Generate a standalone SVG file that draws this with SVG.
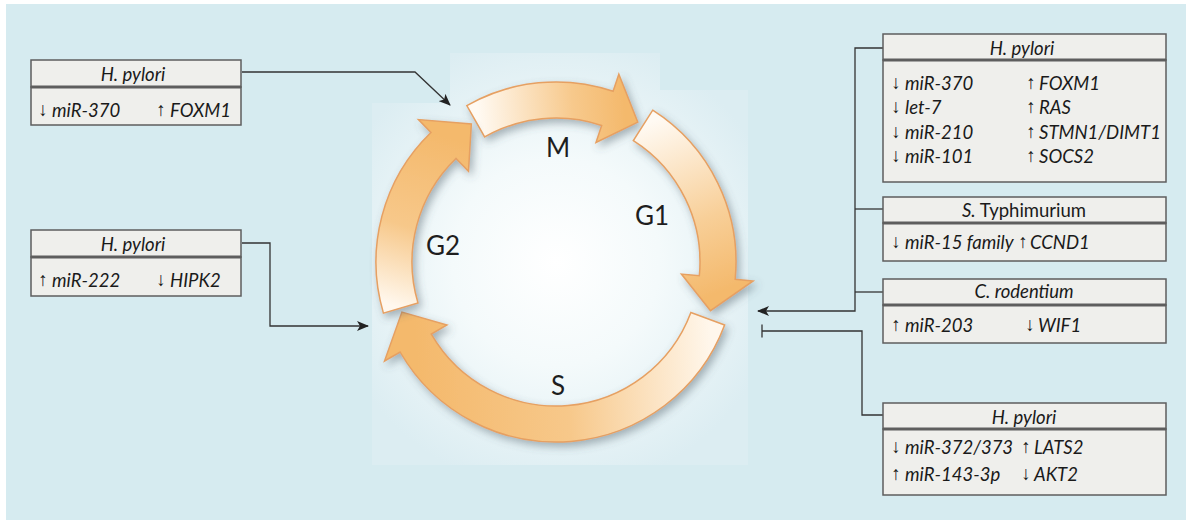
<svg xmlns="http://www.w3.org/2000/svg" width="1186" height="520" viewBox="0 0 1186 520">
<defs>
<style>
.box{fill:#efefec;stroke:#5e5e5e;stroke-width:1.5}
.sep{stroke:#5e5e5e;stroke-width:3}
.t{font-family:Lato,"Liberation Sans",sans-serif;font-style:italic;font-size:18.5px;fill:#1a1a1a}
.tn{font-style:normal}
.ar{font-family:"Liberation Sans","DejaVu Sans",sans-serif;font-size:19px;font-weight:bold;fill:#1a1a1a;text-anchor:middle}
.c{text-anchor:middle}
.ph{font-family:Lato,"Liberation Sans",sans-serif;font-size:26px;fill:#1e1e1e;text-anchor:middle}
.con{fill:none;stroke:#333;stroke-width:1.3}
.arw{stroke:#e6a062;stroke-width:1.5;filter:url(#sh)}
</style>
<marker id="ah" viewBox="0 0 12 10" refX="11" refY="5" markerWidth="12" markerHeight="10" markerUnits="userSpaceOnUse" orient="auto">
<path d="M0,0 L12,5 L0,10 L3,5 Z" fill="#222"/>
</marker>
<filter id="sh" x="-20%" y="-20%" width="140%" height="140%">
<feDropShadow dx="3" dy="4" stdDeviation="4" flood-color="#4a5a66" flood-opacity="0.45"/>
</filter>
<radialGradient id="pan" cx="556" cy="262" r="230" gradientUnits="userSpaceOnUse">
<stop offset="0" stop-color="#ffffff"/>
<stop offset="0.45" stop-color="#f4fafb"/>
<stop offset="1" stop-color="#dcedf2"/>
</radialGradient>
<linearGradient id="gM" gradientUnits="userSpaceOnUse" x1="478" y1="122" x2="625" y2="110">
<stop offset="0" stop-color="#fffaf3"/><stop offset="0.65" stop-color="#f7c98c"/><stop offset="1" stop-color="#f4b96c"/>
</linearGradient>
<linearGradient id="gG1" gradientUnits="userSpaceOnUse" x1="643" y1="125" x2="712" y2="295">
<stop offset="0" stop-color="#fffaf3"/><stop offset="0.6" stop-color="#f8cf98"/><stop offset="1" stop-color="#f4b96c"/>
</linearGradient>
<linearGradient id="gS" gradientUnits="userSpaceOnUse" x1="710" y1="318" x2="415" y2="340">
<stop offset="0" stop-color="#fff7ec"/><stop offset="0.5" stop-color="#f7c88a"/><stop offset="1" stop-color="#f4b96c"/>
</linearGradient>
<linearGradient id="gG2" gradientUnits="userSpaceOnUse" x1="400" y1="308" x2="455" y2="140">
<stop offset="0" stop-color="#fff8ee"/><stop offset="0.45" stop-color="#f7c88a"/><stop offset="1" stop-color="#f4b96c"/>
</linearGradient>
</defs>

<rect x="0" y="0" width="1186" height="520" fill="#ffffff"/>
<rect x="6" y="4" width="1180" height="516" fill="#d6ebf0"/>
<path d="M372,103 H450 V53 H660 V90 H748 V465 H372 Z" fill="url(#pan)"/>

<g id="cycle">
<g id="arrow-M">
<path class="arw" fill="url(#gM)" d="M466.81,105.65 A180,180 0 0 1 613.11,91.31 L618.83,74.24 L637.76,122.15 L595.98,142.51 L601.69,125.44 A144,144 0 0 0 484.65,136.92 Z"/>
<text class="ph" x="558" y="157">M</text>
</g>
<g id="arrow-G1">
<path class="arw" fill="url(#gG1)" d="M652.71,110.19 A180,180 0 0 1 735.17,279.25 L753.09,280.98 L710.50,310.71 L681.42,274.07 L699.34,275.80 A144,144 0 0 0 633.37,140.55 Z"/>
<text class="ph" x="652" y="225">G1</text>
</g>
<g id="arrow-S">
<path class="arw" fill="url(#gS)" d="M724.61,325.04 A180,180 0 0 1 400.12,352 L384.53,361 L401.93,312.06 L446.88,325 L431.29,334 A144,144 0 0 0 690.88,312.43 Z"/>
<text class="ph" x="558" y="395">S</text>
</g>
<g id="arrow-G2">
<path class="arw" fill="url(#gG2)" d="M383.42,313.12 A180,180 0 0 1 430.95,132.53 L418.45,119.58 L471.35,123.88 L468.47,171.37 L455.96,158.42 A144,144 0 0 0 417.93,302.90 Z"/>
<text class="ph" x="443" y="255">G2</text>
</g>
</g>

<g id="connectors">
<polyline class="con" points="242,72 415,72 450,105" marker-end="url(#ah)"/>
<polyline class="con" points="242,243 270,243 270,326 368,326" marker-end="url(#ah)"/>
<polyline class="con" points="883,48 855,48 855,311 758,311" marker-end="url(#ah)"/>
<line class="con" x1="855" y1="209" x2="883" y2="209"/>
<line class="con" x1="855" y1="292" x2="883" y2="292"/>
<polyline class="con" points="883,415 862,415 862,331 762,331"/>
<line class="con" x1="762" y1="324.5" x2="762" y2="337.5" stroke-width="1.8"/>
</g>

<g id="box-hp1">
<rect class="box" x="31" y="60" width="210" height="27"/>
<rect class="box" x="31" y="87" width="210" height="38"/>
<line class="sep" x1="31" y1="87" x2="241" y2="87"/>
<text class="t c" x="133" y="81">H. pylori</text>
<text class="ar" x="43" y="116">↓</text><text class="t" x="52" y="117">miR-370</text>
<text class="ar" x="161" y="116">↑</text><text class="t" x="170" y="117">FOXM1</text>
</g>

<g id="box-hp2">
<rect class="box" x="31" y="230" width="210" height="27"/>
<rect class="box" x="31" y="257" width="210" height="39"/>
<line class="sep" x1="31" y1="257" x2="241" y2="257"/>
<text class="t c" x="133" y="251">H. pylori</text>
<text class="ar" x="43" y="286">↑</text><text class="t" x="52" y="287">miR-222</text>
<text class="ar" x="161" y="286">↓</text><text class="t" x="170" y="287">HIPK2</text>
</g>

<g id="box-hp3">
<rect class="box" x="883" y="34" width="283" height="26"/>
<rect class="box" x="883" y="60" width="283" height="122"/>
<line class="sep" x1="883" y1="60" x2="1166" y2="60"/>
<text class="t c" x="1022" y="55">H. pylori</text>
<text class="ar" x="896" y="89">↓</text><text class="t" x="905" y="90">miR-370</text>
<text class="ar" x="1031" y="89">↑</text><text class="t" x="1039" y="90">FOXM1</text>
<text class="ar" x="896" y="113">↓</text><text class="t" x="905" y="114">let-7</text>
<text class="ar" x="1031" y="113">↑</text><text class="t" x="1039" y="114">RAS</text>
<text class="ar" x="896" y="138">↓</text><text class="t" x="905" y="139">miR-210</text>
<text class="ar" x="1031" y="138">↑</text><text class="t" x="1039" y="139">STMN1/DIMT1</text>
<text class="ar" x="896" y="162">↓</text><text class="t" x="905" y="163">miR-101</text>
<text class="ar" x="1031" y="162">↑</text><text class="t" x="1039" y="163">SOCS2</text>
</g>

<g id="box-st">
<rect class="box" x="883" y="197" width="283" height="26"/>
<rect class="box" x="883" y="223" width="283" height="38"/>
<line class="sep" x1="883" y1="223" x2="1166" y2="223"/>
<text class="t c" x="1024" y="217">S.<tspan class="tn"> Typhimurium</tspan></text>
<text class="ar" x="896" y="248">↓</text><text class="t" x="905" y="249">miR-15 family</text>
<text class="ar" x="1023" y="248">↑</text><text class="t" x="1030" y="249">CCND1</text>
</g>

<g id="box-cr">
<rect class="box" x="883" y="279" width="283" height="26"/>
<rect class="box" x="883" y="305" width="283" height="38"/>
<line class="sep" x1="883" y1="305" x2="1166" y2="305"/>
<text class="t c" x="1024" y="298">C. rodentium</text>
<text class="ar" x="896" y="331">↑</text><text class="t" x="905" y="332">miR-203</text>
<text class="ar" x="1030" y="331">↓</text><text class="t" x="1038" y="332">WIF1</text>
</g>

<g id="box-hp4">
<rect class="box" x="883" y="403" width="283" height="26"/>
<rect class="box" x="883" y="429" width="283" height="66"/>
<line class="sep" x1="883" y1="429" x2="1166" y2="429"/>
<text class="t c" x="1024" y="424">H. pylori</text>
<text class="ar" x="896" y="453">↓</text><text class="t" x="905" y="454">miR-372/373</text>
<text class="ar" x="1026" y="453">↑</text><text class="t" x="1034" y="454">LATS2</text>
<text class="ar" x="896" y="480">↑</text><text class="t" x="905" y="481">miR-143-3p</text>
<text class="ar" x="1026" y="480">↓</text><text class="t" x="1034" y="481">AKT2</text>
</g>
</svg>
